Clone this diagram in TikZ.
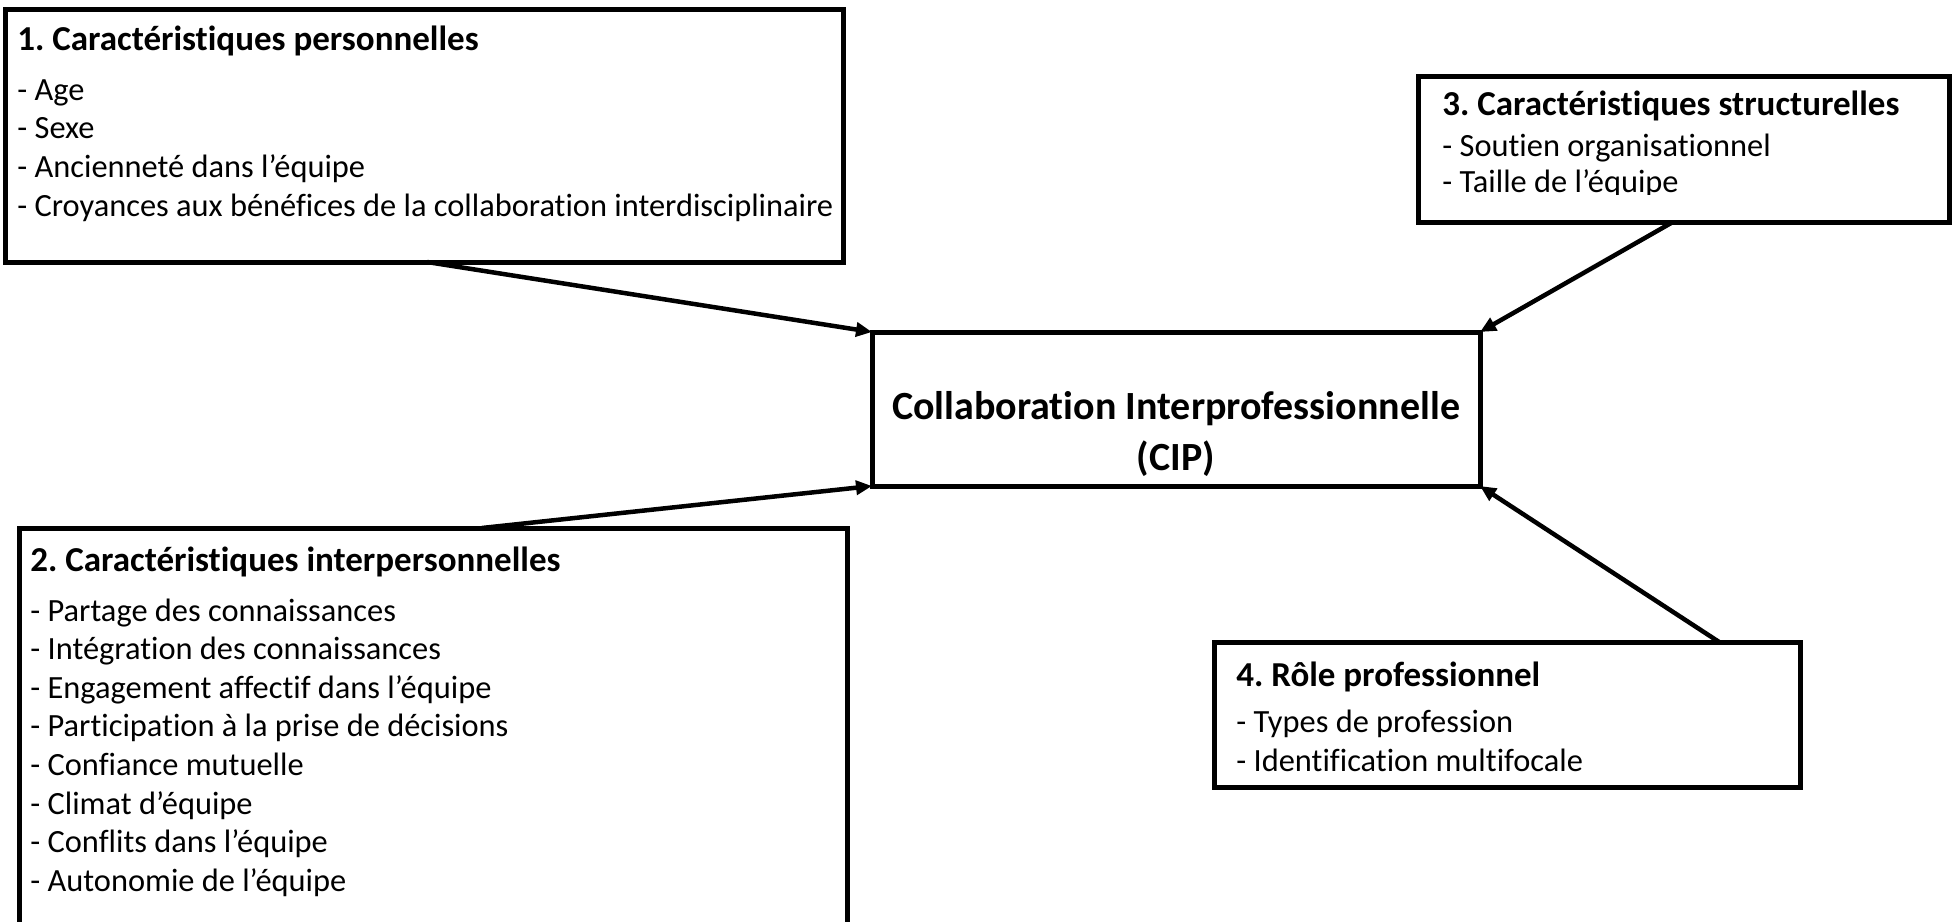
\documentclass[tikz,border=0pt]{standalone}
\usepackage{fontspec}
\setmainfont{Carlito}[Ligatures=NoCommon]
\usetikzlibrary{arrows.meta,calc}
\frenchspacing
\begin{document}
\begin{tikzpicture}[x=0.5pt,y=-0.5pt,
  box/.style={draw,line width=2.5pt,inner sep=0pt,outer sep=0pt,anchor=north west},
  head/.style={anchor=base west,inner sep=0pt,font=\fontsize{17.5}{21}\selectfont\bfseries},
  item/.style={anchor=base west,inner sep=0pt,font=\fontsize{16.2}{19}\selectfont},
  core/.style={anchor=base,inner sep=0pt,font=\fontsize{20}{24}\selectfont\bfseries},
  link/.style={line width=2.25pt,-{Triangle[length=8pt,width=7pt]}}]
\useasboundingbox (0,0) rectangle (1953,921);

% frames
\node[box,minimum width=419pt,minimum height=126.5pt] (b1) at (5,9) {};
\node[box,minimum width=414pt,minimum height=216pt] (b2) at (19,528) {};
\node[box,minimum width=265.5pt,minimum height=73pt] (b3) at (1418,76) {};
\node[box,minimum width=293pt,minimum height=72.5pt] (b4) at (1214,642) {};
\node[box,minimum width=304pt,minimum height=77pt] (cip) at (872,332) {};

% 1. personal characteristics
\node[head] (t1) at (17,50) {1. Caractéristiques personnelles};
\node[item] (t1a) at (17,100) {- Age};
\node[item] (t1b) at (17,138.7) {- Sexe};
\node[item] (t1c) at (17,177.3) {- Ancienneté dans l’équipe};
\node[item] (t1d) at (17,216) {- Croyances aux bénéfices de la collaboration interdisciplinaire};

% 2. interpersonal characteristics
\node[head] (t2) at (30,571) {2. Caractéristiques interpersonnelles};
\node[item] (t2a) at (30,621) {- Partage des connaissances};
\node[item] (t2b) at (30,659.6) {- Intégration des connaissances};
\node[item] (t2c) at (30,698.2) {- Engagement affectif dans l’équipe};
\node[item] (t2d) at (30,736.8) {- Participation à la prise de décisions};
\node[item] (t2e) at (30,775.4) {- Confiance mutuelle};
\node[item] (t2f) at (30,814) {- Climat d’équipe};
\node[item] (t2g) at (30,852.6) {- Conflits dans l’équipe};
\node[item] (t2h) at (30,891.2) {- Autonomie de l’équipe};

% 3. structural characteristics (text cut at the inner margin)
\begin{scope}
  \clip (1418,76) rectangle (1949,194);
  \node[head] (t3) at (1442,115) {3. Caractéristiques structurelles};
  \node[item] (t3a) at (1442,156) {- Soutien organisationnel};
  \node[item] (t3b) at (1442,192) {- Taille de l’équipe};
\end{scope}

% 4. professional role
\node[head] (t4) at (1236,686) {4. Rôle professionnel};
\node[item] (t4a) at (1236,732) {- Types de profession};
\node[item] (t4b) at (1236,771) {- Identification multifocale};

% centre
\node[core] (c1) at (1176,419) {Collaboration Interprofessionnelle};
\node[core] (c2) at (1176,470) {(CIP)};

% links
\draw[link] ($(b1.south west)!0.5036!(b1.south east)$) -- (cip.north west);
\draw[link] ($(b2.north west)!0.559!(b2.north east)$) -- (cip.south west);
\draw[link] ($(b3.south west)!0.48!(b3.south east)$) -- (cip.north east);
\draw[link] ($(b4.north west)!0.862!(b4.north east)$) -- (cip.south east);
\end{tikzpicture}
\end{document}
